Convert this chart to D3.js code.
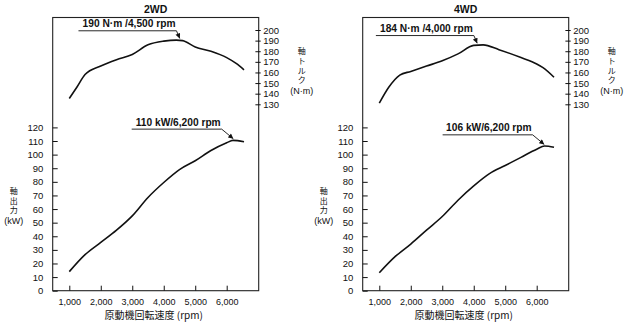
<!DOCTYPE html>
<html>
<head>
<meta charset="utf-8">
<script src="https://cdn.jsdelivr.net/npm/d3@7"></script>
<style>
  body { margin: 0; background: #fff; }
  text { font-family: "Liberation Sans", Arial, sans-serif; fill: #111; }
  .jp { font-family: "Noto Sans CJK JP", "Liberation Sans", sans-serif; }
  .title { font-weight: bold; font-size: 10.5px; }
  .ann { font-weight: bold; font-size: 10.2px; }
</style>
</head>
<body>
<svg id="chart" width="626" height="325"></svg>
<script>
// ---- data ----
let panel_names = ["2WD", "4WD"];

let rpm_ticks = [1000, 2000, 3000, 4000, 5000, 6000];
let power_ticks = [0, 10, 20, 30, 40, 50, 60, 70, 80, 90, 100, 110, 120];
let torque_ticks = [130, 140, 150, 160, 170, 180, 190, 200];

let rpm_2wd_torque = [1000, 1250, 1500, 2000, 2500, 3000, 3500, 4000, 4400, 4600, 5000, 5500, 6000, 6300, 6550];
let torque_2wd = [135.5, 146.5, 158, 166, 172, 177, 186, 189.5, 190.5, 190, 184, 180, 174, 168.5, 162.5];

let rpm_2wd_power = [1000, 1500, 2000, 2500, 3000, 3500, 4000, 4500, 5000, 5500, 6000, 6200, 6550];
let power_2wd = [14, 26.5, 35.5, 44.5, 55, 68.5, 79.5, 89, 95.5, 103, 108.7, 110.5, 109.5];

let rpm_4wd_torque = [1000, 1300, 1650, 2000, 2500, 3000, 3500, 4000, 4300, 4800, 5500, 6000, 6200, 6550];
let torque_4wd = [131, 146, 157.5, 161, 166, 171, 177.5, 185.5, 186, 181.5, 174, 168, 164.5, 155.5];

let rpm_4wd_power = [1000, 1500, 2000, 2500, 3000, 3500, 4000, 4500, 5000, 5500, 6000, 6250, 6550];
let power_4wd = [13.2, 25, 34.3, 44.5, 54.5, 66.5, 77, 86, 92, 98, 104, 106.3, 105.4];

// annotations: [text, rpm, value]
let torque_notes = [["190 N·m /4,500 rpm", 4500, 190.5], ["184 N·m /4,000 rpm", 4100, 186]];
let power_notes = [["110 kW/6,200 rpm", 6200, 110.5], ["106 kW/6,200 rpm", 6230, 106.3]];

let torque_rpm = [rpm_2wd_torque, rpm_4wd_torque];
let torque_vals = [torque_2wd, torque_4wd];
let power_rpm = [rpm_2wd_power, rpm_4wd_power];
let power_vals = [power_2wd, power_4wd];

// ---- layout ----
let svg = d3.select("#chart");
let panel_dx = 310;
let frame_l = 52.7, frame_r = 258.7, frame_t = 17.5, frame_b = 290.7;

let x = d3.scaleLinear().domain([1000, 6000]).range([69.3, 226.7]);
let y_power = d3.scaleLinear().domain([0, 120]).range([frame_b, 127.4]);
let y_torque = d3.scaleLinear().domain([130, 200]).range([104.3, 30]);

let defs = svg.append("defs");
defs.append("marker")
  .attr("id", "arrow")
  .attr("viewBox", "0 0 10 10")
  .attr("refX", 10)
  .attr("refY", 5)
  .attr("markerUnits", "userSpaceOnUse")
  .attr("markerWidth", 6)
  .attr("markerHeight", 5)
  .attr("orient", "auto")
  .append("path")
  .attr("d", "M0,0 L10,5 L0,10 Z")
  .attr("fill", "#111");

function line_for(rpms, vals, yscale) {
  let pts = rpms.map(function (r, i) { return [r, vals[i]]; });
  return d3.line()
    .x(function (d) { return x(d[0]); })
    .y(function (d) { return yscale(d[1]); })
    .curve(d3.curveMonotoneX)(pts);
}

function draw_note(g, note, yscale, elbow_dx, elbow_dy, len) {
  let tx = x(note[1]);
  let ty = yscale(note[2]);
  let ex = tx + elbow_dx;
  let ey = ty + elbow_dy;
  g.append("path")
    .attr("d", "M" + (ex - len) + "," + ey + " L" + ex + "," + ey + " L" + (tx + 0.3) + "," + (ty - 1.6))
    .attr("fill", "none")
    .attr("stroke", "#111")
    .attr("stroke-width", 0.9)
    .attr("marker-end", "url(#arrow)");
  g.append("text")
    .attr("class", "ann")
    .attr("x", ex - 1)
    .attr("y", ey - 3.4)
    .attr("text-anchor", "end")
    .text(note[0]);
}

panel_names.forEach(function (name, p) {
  let g = svg.append("g")
    .attr("transform", "translate(" + (p * panel_dx) + ",0)");

  // frame
  g.append("rect")
    .attr("x", frame_l)
    .attr("y", frame_t)
    .attr("width", frame_r - frame_l)
    .attr("height", frame_b - frame_t)
    .attr("fill", "none")
    .attr("stroke", "#222")
    .attr("stroke-width", 1.1);

  g.append("text")
    .attr("class", "title")
    .attr("x", (frame_l + frame_r) / 2)
    .attr("y", 12.8)
    .attr("text-anchor", "middle")
    .text(name);

  // left axis: power
  let left = g.append("g")
    .attr("transform", "translate(" + frame_l + ",0)")
    .call(d3.axisLeft(y_power).tickValues(power_ticks).tickSizeInner(-5).tickSizeOuter(0).tickPadding(9.4));
  left.select(".domain").remove();
  left.selectAll(".tick line").attr("stroke", "#111");
  left.selectAll("text").attr("font-size", "9.5px").attr("font-family", null);

  // right axis: torque
  let right = g.append("g")
    .attr("transform", "translate(" + frame_r + ",0)")
    .call(d3.axisRight(y_torque).tickValues(torque_ticks).tickSizeInner(2).tickSizeOuter(0).tickPadding(2.6));
  right.select(".domain").remove();
  right.selectAll(".tick line").attr("x1", -3.3).attr("stroke", "#111");
  right.selectAll("text").attr("font-size", "9.5px").attr("font-family", null);

  // bottom axis: rpm
  let bottom = g.append("g")
    .attr("transform", "translate(0," + frame_b + ")")
    .call(d3.axisBottom(x).tickValues(rpm_ticks).tickSizeInner(-5).tickSizeOuter(0).tickPadding(8.3)
      .tickFormat(d3.format(",")));
  bottom.select(".domain").remove();
  bottom.selectAll(".tick line").attr("stroke", "#111");
  bottom.selectAll("text").attr("font-size", "9px").attr("font-family", null);

  g.append("text")
    .attr("class", "jp")
    .attr("x", (frame_l + frame_r) / 2 - 2)
    .attr("y", 319)
    .attr("text-anchor", "middle")
    .attr("font-size", "10px")
    .text("原動機回転速度 (rpm)");

  // left vertical label
  let lbl_l = ["軸", "出", "力", "(kW)"];
  let lbl_l_y = [194.2, 203.8, 213.4, 224];
  lbl_l.forEach(function (t, i) {
    g.append("text")
      .attr("class", i < 3 ? "jp" : null)
      .attr("x", frame_l - 39)
      .attr("y", lbl_l_y[i])
      .attr("text-anchor", "middle")
      .attr("font-size", i < 3 ? "8px" : "9px")
      .text(t);
  });

  // right vertical label
  let lbl_r = ["軸", "ト", "ル", "ク", "(N·m)"];
  let lbl_r_y = [54.3, 63.9, 73.5, 83.1, 94];
  lbl_r.forEach(function (t, i) {
    g.append("text")
      .attr("class", i < 4 ? "jp" : null)
      .attr("x", frame_r + 43)
      .attr("y", lbl_r_y[i])
      .attr("text-anchor", "middle")
      .attr("font-size", i < 4 ? "8px" : "9px")
      .text(t);
  });

  // curves
  g.append("path")
    .attr("d", line_for(torque_rpm[p], torque_vals[p], y_torque))
    .attr("fill", "none")
    .attr("stroke", "#111")
    .attr("stroke-width", 1.6);

  g.append("path")
    .attr("d", line_for(power_rpm[p], power_vals[p], y_power))
    .attr("fill", "none")
    .attr("stroke", "#111")
    .attr("stroke-width", 1.6);

  draw_note(g, torque_notes[p], y_torque, -3, -9.3, 98);
  draw_note(g, power_notes[p], y_power, -11.3, -11.2, 90);
});
</script>
</body>
</html>
